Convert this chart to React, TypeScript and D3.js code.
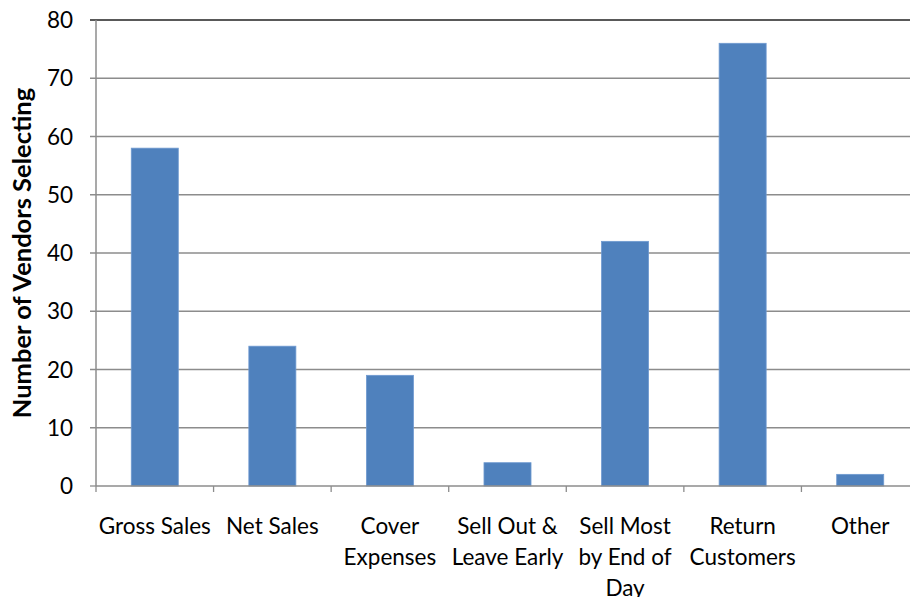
import React from "react";
import * as d3 from "d3";

const categories: string[][] = [
  ["Gross Sales"],
  ["Net Sales"],
  ["Cover", "Expenses"],
  ["Sell Out &", "Leave Early"],
  ["Sell Most", "by End of", "Day"],
  ["Return", "Customers"],
  ["Other"],
];
const values: number[] = [58, 24, 19, 4, 42, 76, 2];
const yTicks: number[] = [0, 10, 20, 30, 40, 50, 60, 70, 80];
const yTitle = "Number of Vendors Selecting";

export default function App() {
  const W = 910, H = 597;
  const left = 96, top = 20, bottom = 486, right = 919;
  const keys = categories.map((c) => c.join(" "));
  const x = d3.scaleBand<string>().domain(keys).range([left, right]).padding(0);
  const y = d3.scaleLinear().domain([0, 80]).range([bottom, top]);
  const bw = x.bandwidth();
  const font = "Lato, 'Open Sans', sans-serif";
  return (
    <svg width={W} height={H} style={{ position: "absolute", left: 0, top: 0, background: "#fff" }}>
      {yTicks.map((t) => (
        <g key={t}>
          <line x1={left - 6} x2={t === 0 ? left : right} y1={y(t)} y2={y(t)}
            stroke={t === 80 ? "#595959" : "#8c8c8c"} strokeWidth={t === 80 ? 2 : 1.3} />
          <text x={73} y={y(t)} dy="0.36em" textAnchor="end" fontFamily={font} fontSize={22.5} fill="#000">{t}</text>
        </g>
      ))}
      {keys.map((k, i) => (
        <rect key={k} x={x(k)! + bw * 0.3} width={bw * 0.4} y={y(values[i])} height={y(0) - y(values[i])}
          fill="#4F81BD" stroke="#6f9ad0" strokeWidth={0.8} />
      ))}
      <line x1={left} x2={left} y1={top} y2={bottom} stroke="#8c8c8c" strokeWidth={1.5} />
      <line x1={left} x2={right} y1={bottom} y2={bottom} stroke="#8c8c8c" strokeWidth={1.5} />
      {d3.range(keys.length + 1).map((i) => (
        <line key={i} x1={left + i * bw} x2={left + i * bw} y1={bottom} y2={bottom + 6} stroke="#8c8c8c" strokeWidth={1.3} />
      ))}
      {categories.map((lines, i) => (
        <text key={i} x={x(keys[i])! + bw / 2} y={534} textAnchor="middle" fontFamily={font} fontSize={22.5} fill="#000">
          {lines.map((l, j) => (
            <tspan key={j} x={x(keys[i])! + bw / 2} dy={j === 0 ? 0 : 31}>{l}</tspan>
          ))}
        </text>
      ))}
      <text transform={`translate(31,${(top + bottom) / 2}) rotate(-90)`} textAnchor="middle"
        fontFamily={font} fontSize={25.5} fontWeight="bold" fill="#000">{yTitle}</text>
    </svg>
  );
}
